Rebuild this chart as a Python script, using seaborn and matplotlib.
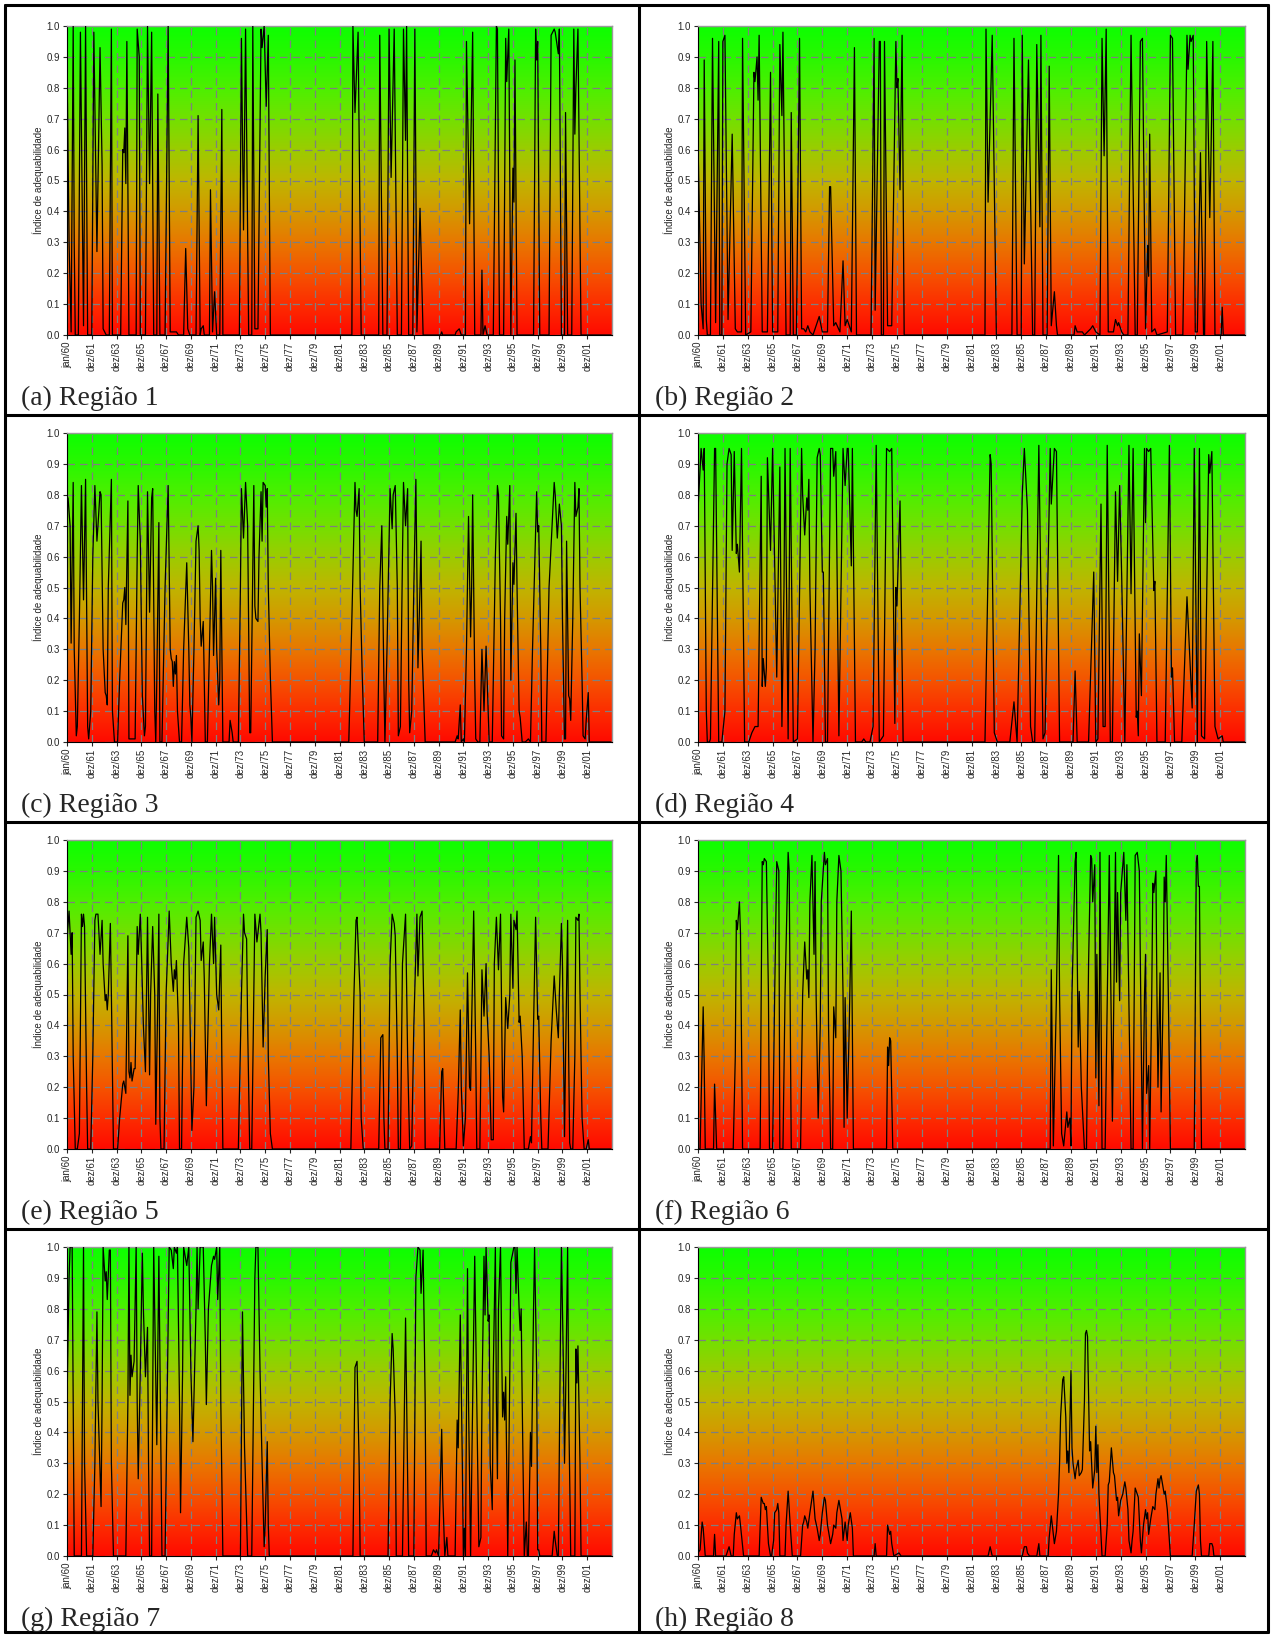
import numpy as np
import pandas as pd
import matplotlib
matplotlib.use("Agg")
import matplotlib.pyplot as plt
import seaborn as sns
from matplotlib.colors import LinearSegmentedColormap
from matplotlib.lines import Line2D

sns.set_style("ticks")
plt.rcParams["font.family"] = ["Liberation Sans", "DejaVu Sans"]

# Monthly index: 0 = jan/60. Values as (month, index) vertices.
regiao1 = [(0, 0.90), (2, 0.30), (4, 0.01), (6, 1.0), (7, 0.30), (8, 0.0), (11, 0.0), (13, 0.98),
           (16, 0.03), (18, 1.0), (20, 0.0), (24, 0.0), (26, 0.98), (29, 0.27), (32, 0.93), (34, 0.55),
           (35, 0.02), (38, 0.0), (41, 0.0), (43, 0.99), (44, 0.0), (52, 0.0), (54, 0.60), (55, 0.59),
           (56, 0.67), (57, 0.49), (58, 0.95), (60, 0.0), (67, 0.0), (68, 0.99), (70, 0.90), (71, 0.0),
           (76, 0.0), (78, 1.0), (80, 0.49), (82, 0.98), (84, 0.0), (87, 0.0), (88, 0.78), (90, 0.0),
           (95, 0.0), (98, 1.0), (100, 0.01), (106, 0.01), (108, 0.0), (113, 0.0), (115, 0.28), (117, 0.02),
           (119, 0.0), (125, 0.0), (127, 0.71), (129, 0.0), (130, 0.02), (132, 0.03), (133, 0.0), (138, 0.0),
           (139, 0.47), (141, 0.01), (143, 0.14), (145, 0.0), (148, 0.0), (150, 0.73), (151, 0.0), (167, 0.0),
           (169, 0.96), (171, 0.34), (173, 0.99), (176, 0.0), (179, 0.0), (180, 1.0), (182, 0.02), (185, 0.02),
           (188, 0.99), (189, 0.93), (191, 1.0), (193, 0.74), (195, 0.97), (197, 0.0), (276, 0.0), (277, 1.0),
           (279, 0.72), (282, 0.98), (285, 0.0), (302, 0.0), (303, 0.97), (306, 0.0), (310, 0.0), (312, 0.99),
           (314, 0.51), (317, 0.99), (320, 0.0), (324, 0.0), (326, 0.99), (328, 0.63), (329, 1.0), (331, 0.0),
           (335, 0.0), (337, 0.99), (339, 0.01), (342, 0.41), (345, 0.0), (362, 0.0), (363, 0.01), (364, 0.0),
           (376, 0.0), (377, 0.01), (380, 0.02), (382, 0.0), (386, 0.0), (387, 0.95), (390, 0.36), (393, 0.98),
           (395, 0.0), (401, 0.0), (402, 0.21), (403, 0.0), (405, 0.03), (407, 0.0), (413, 0.0), (416, 1.0),
           (417, 0.99), (419, 0.0), (423, 0.0), (425, 0.96), (426, 0.82), (428, 0.99), (430, 0.0), (432, 0.54),
           (433, 0.43), (434, 0.89), (436, 0.0), (452, 0.0), (454, 0.99), (455, 0.89), (456, 0.95), (458, 0.0),
           (467, 0.0), (469, 0.97), (472, 0.99), (473, 0.98), (476, 0.91), (477, 0.99), (479, 0.0), (482, 0.0),
           (483, 0.72), (485, 0.0), (489, 0.0), (491, 0.99), (492, 0.65), (493, 0.80), (495, 0.99), (498, 0.0),
           (527, 0.0)]

regiao2 = [(0, 0.63), (3, 0.10), (5, 0.02), (6, 0.89), (8, 0.05), (9, 0.0), (12, 0.0), (14, 0.96),
           (17, 0.04), (20, 0.95), (21, 0.0), (23, 0.0), (24, 0.95), (26, 0.97), (29, 0.05), (33, 0.65),
           (36, 0.02), (38, 0.01), (42, 0.01), (43, 0.96), (46, 0.0), (51, 0.01), (54, 0.85), (55, 0.82),
           (57, 0.90), (58, 0.76), (59, 0.97), (62, 0.01), (67, 0.01), (70, 0.85), (72, 0.01), (77, 0.01),
           (79, 0.94), (81, 0.71), (82, 0.98), (85, 0.0), (89, 0.0), (90, 0.72), (92, 0.0), (95, 0.0),
           (98, 0.96), (100, 0.02), (102, 0.02), (104, 0.01), (106, 0.03), (108, 0.01), (111, 0.0), (117, 0.06),
           (120, 0.01), (125, 0.01), (127, 0.48), (128, 0.48), (131, 0.03), (133, 0.04), (137, 0.01), (140, 0.24),
           (142, 0.03), (144, 0.05), (148, 0.01), (151, 0.93), (153, 0.0), (167, 0.0), (170, 0.96), (171, 0.08),
           (175, 0.95), (176, 0.95), (177, 0.0), (179, 0.0), (180, 0.95), (183, 0.03), (187, 0.03), (191, 0.95),
           (192, 0.80), (193, 0.83), (195, 0.47), (197, 0.97), (199, 0.0), (277, 0.0), (278, 0.99), (280, 0.43),
           (284, 0.97), (288, 0.0), (303, 0.0), (305, 0.96), (308, 0.0), (312, 0.0), (313, 0.97), (315, 0.23),
           (319, 0.89), (323, 0.0), (325, 0.0), (327, 0.94), (330, 0.35), (331, 0.97), (333, 0.0), (337, 0.0),
           (339, 0.87), (341, 0.03), (344, 0.14), (346, 0.03), (347, 0.0), (363, 0.0), (364, 0.03), (366, 0.01),
           (371, 0.01), (373, 0.0), (379, 0.02), (381, 0.03), (384, 0.01), (388, 0.0), (390, 0.96), (392, 0.58),
           (394, 0.99), (396, 0.01), (401, 0.01), (403, 0.05), (405, 0.03), (406, 0.04), (409, 0.01), (411, 0.0),
           (415, 0.0), (418, 0.97), (422, 0.0), (424, 0.0), (427, 0.95), (429, 0.96), (432, 0.02), (434, 0.29),
           (435, 0.19), (436, 0.65), (438, 0.01), (441, 0.02), (443, 0.0), (453, 0.01), (456, 0.97), (458, 0.96),
           (461, 0.0), (468, 0.0), (472, 0.97), (473, 0.86), (475, 0.97), (476, 0.95), (478, 0.97), (480, 0.01),
           (482, 0.01), (485, 0.59), (488, 0.0), (489, 0.0), (491, 0.95), (494, 0.38), (495, 0.55), (497, 0.95),
           (499, 0.0), (505, 0.0), (506, 0.09), (507, 0.0), (528, 0.0)]

regiao3 = [(0, 0.79), (1, 0.79), (3, 0.70), (4, 0.32), (6, 0.84), (7, 0.30), (9, 0.02), (10, 0.05),
           (12, 0.40), (14, 0.83), (16, 0.46), (18, 0.85), (20, 0.05), (21, 0.01), (23, 0.10), (25, 0.60),
           (27, 0.83), (29, 0.65), (30, 0.70), (32, 0.81), (33, 0.80), (35, 0.30), (37, 0.16), (38, 0.15),
           (39, 0.12), (40, 0.50), (43, 0.85), (44, 0.10), (46, 0.0), (49, 0.0), (51, 0.20), (54, 0.45),
           (55, 0.46), (56, 0.50), (57, 0.38), (59, 0.78), (60, 0.01), (66, 0.01), (68, 0.60), (69, 0.83),
           (71, 0.65), (73, 0.15), (75, 0.02), (76, 0.05), (78, 0.81), (80, 0.42), (82, 0.79), (83, 0.82),
           (85, 0.10), (86, 0.0), (87, 0.20), (89, 0.71), (90, 0.0), (92, 0.0), (95, 0.50), (98, 0.83),
           (100, 0.30), (101, 0.27), (102, 0.26), (103, 0.18), (104, 0.26), (105, 0.22), (106, 0.28), (107, 0.10),
           (109, 0.0), (111, 0.0), (113, 0.30), (116, 0.58), (118, 0.30), (119, 0.12), (120, 0.08), (121, 0.0),
           (123, 0.30), (125, 0.65), (127, 0.70), (128, 0.62), (129, 0.40), (130, 0.31), (132, 0.39), (134, 0.0),
           (136, 0.0), (138, 0.30), (140, 0.62), (141, 0.50), (142, 0.28), (144, 0.53), (145, 0.30), (147, 0.12),
           (148, 0.20), (149, 0.62), (151, 0.0), (157, 0.0), (158, 0.07), (160, 0.03), (161, 0.0), (166, 0.0),
           (168, 0.50), (169, 0.82), (171, 0.66), (173, 0.84), (175, 0.70), (177, 0.03), (178, 0.03), (179, 0.30),
           (181, 0.83), (182, 0.44), (183, 0.40), (185, 0.39), (186, 0.60), (188, 0.81), (189, 0.65), (190, 0.84),
           (192, 0.83), (193, 0.76), (194, 0.82), (195, 0.50), (197, 0.21), (199, 0.0), (273, 0.0), (276, 0.40),
           (279, 0.84), (280, 0.75), (281, 0.73), (283, 0.82), (284, 0.50), (286, 0.22), (288, 0.0), (301, 0.0),
           (303, 0.50), (305, 0.70), (307, 0.20), (308, 0.0), (310, 0.30), (313, 0.82), (315, 0.69), (316, 0.80),
           (318, 0.83), (320, 0.50), (321, 0.02), (323, 0.05), (325, 0.60), (326, 0.84), (328, 0.70), (330, 0.82),
           (331, 0.20), (332, 0.03), (334, 0.10), (336, 0.50), (338, 0.85), (340, 0.24), (342, 0.50), (343, 0.65),
           (344, 0.30), (347, 0.0), (376, 0.0), (378, 0.02), (379, 0.01), (381, 0.12), (382, 0.0), (384, 0.01),
           (385, 0.0), (387, 0.30), (389, 0.73), (391, 0.34), (392, 0.50), (393, 0.80), (395, 0.20), (396, 0.01),
           (398, 0.0), (400, 0.0), (402, 0.30), (404, 0.10), (406, 0.31), (408, 0.10), (409, 0.0), (412, 0.0),
           (415, 0.60), (417, 0.83), (418, 0.80), (420, 0.40), (421, 0.02), (423, 0.01), (424, 0.40), (426, 0.73),
           (427, 0.64), (429, 0.83), (430, 0.20), (432, 0.58), (433, 0.51), (435, 0.74), (436, 0.50), (438, 0.10),
           (439, 0.08), (441, 0.0), (444, 0.0), (447, 0.01), (449, 0.0), (451, 0.30), (455, 0.81), (456, 0.68),
           (457, 0.70), (459, 0.30), (460, 0.0), (464, 0.0), (467, 0.50), (472, 0.84), (473, 0.80), (475, 0.66),
           (477, 0.77), (479, 0.70), (480, 0.40), (482, 0.01), (483, 0.01), (484, 0.65), (486, 0.15), (487, 0.14),
           (488, 0.07), (490, 0.40), (492, 0.84), (493, 0.73), (495, 0.76), (496, 0.82), (497, 0.50), (499, 0.20),
           (500, 0.02), (502, 0.01), (503, 0.07), (505, 0.16), (506, 0.0), (527, 0.0)]

regiao4 = [(0, 0.75), (3, 0.95), (5, 0.88), (6, 0.95), (8, 0.10), (9, 0.0), (11, 0.0), (12, 0.01),
           (16, 0.95), (17, 0.95), (20, 0.0), (23, 0.0), (26, 0.10), (28, 0.90), (30, 0.95), (32, 0.93),
           (33, 0.62), (35, 0.94), (37, 0.61), (38, 0.64), (40, 0.55), (42, 0.95), (45, 0.0), (49, 0.0),
           (52, 0.03), (55, 0.05), (58, 0.05), (61, 0.86), (62, 0.18), (63, 0.27), (65, 0.18), (66, 0.24),
           (67, 0.92), (70, 0.62), (72, 0.95), (76, 0.21), (79, 0.89), (81, 0.05), (83, 0.50), (84, 0.95),
           (87, 0.01), (89, 0.95), (92, 0.0), (96, 0.01), (100, 0.95), (101, 0.80), (103, 0.67), (105, 0.79),
           (106, 0.75), (107, 0.85), (108, 0.50), (111, 0.0), (113, 0.30), (115, 0.92), (117, 0.95), (118, 0.93),
           (120, 0.55), (121, 0.55), (123, 0.0), (125, 0.0), (128, 0.95), (130, 0.95), (131, 0.86), (133, 0.94),
           (136, 0.02), (140, 0.95), (142, 0.83), (144, 0.95), (145, 0.95), (148, 0.57), (149, 0.95), (152, 0.0),
           (158, 0.0), (160, 0.01), (162, 0.0), (166, 0.0), (169, 0.05), (172, 0.96), (175, 0.0), (179, 0.02),
           (182, 0.95), (185, 0.94), (187, 0.95), (190, 0.06), (191, 0.50), (192, 0.44), (195, 0.78), (198, 0.0),
           (277, 0.0), (282, 0.93), (283, 0.90), (286, 0.03), (289, 0.0), (301, 0.0), (305, 0.13), (308, 0.0),
           (313, 0.80), (315, 0.95), (318, 0.75), (321, 0.05), (323, 0.0), (325, 0.0), (329, 0.96), (333, 0.01),
           (335, 0.03), (340, 0.95), (341, 0.77), (344, 0.95), (346, 0.94), (349, 0.0), (362, 0.0), (364, 0.23),
           (366, 0.0), (377, 0.0), (382, 0.55), (384, 0.0), (386, 0.01), (389, 0.77), (391, 0.05), (393, 0.05),
           (395, 0.96), (398, 0.0), (400, 0.0), (403, 0.81), (405, 0.52), (407, 0.83), (409, 0.53), (412, 0.0),
           (416, 0.96), (418, 0.48), (420, 0.95), (423, 0.08), (424, 0.10), (425, 0.02), (426, 0.35), (428, 0.15),
           (431, 0.95), (432, 0.71), (433, 0.95), (435, 0.94), (437, 0.95), (440, 0.49), (441, 0.52), (443, 0.0),
           (451, 0.0), (455, 0.96), (457, 0.21), (458, 0.24), (460, 0.0), (467, 0.0), (472, 0.47), (477, 0.11),
           (479, 0.95), (482, 0.0), (484, 0.95), (486, 0.02), (489, 0.01), (493, 0.93), (494, 0.87), (496, 0.94),
           (499, 0.05), (502, 0.01), (506, 0.02), (507, 0.0), (528, 0.0)]

regiao5 = [(0, 0.68), (2, 0.77), (3, 0.70), (4, 0.63), (5, 0.70), (6, 0.30), (8, 0.0), (10, 0.0),
           (12, 0.05), (14, 0.76), (15, 0.72), (16, 0.76), (17, 0.72), (19, 0.20), (20, 0.0), (23, 0.0),
           (25, 0.30), (27, 0.74), (28, 0.76), (30, 0.76), (32, 0.63), (34, 0.74), (35, 0.60), (37, 0.48),
           (38, 0.50), (39, 0.45), (40, 0.50), (42, 0.73), (43, 0.50), (45, 0.0), (49, 0.0), (51, 0.10),
           (54, 0.21), (55, 0.22), (57, 0.18), (59, 0.69), (60, 0.25), (61, 0.23), (62, 0.28), (63, 0.22),
           (65, 0.26), (66, 0.26), (68, 0.72), (69, 0.63), (71, 0.76), (72, 0.65), (74, 0.40), (76, 0.25),
           (78, 0.75), (80, 0.24), (81, 0.50), (83, 0.72), (85, 0.50), (86, 0.08), (88, 0.50), (89, 0.76),
           (90, 0.10), (91, 0.0), (94, 0.0), (96, 0.50), (99, 0.77), (101, 0.60), (103, 0.51), (104, 0.58),
           (105, 0.55), (106, 0.61), (108, 0.40), (109, 0.0), (111, 0.0), (113, 0.60), (116, 0.75), (118, 0.65),
           (119, 0.45), (121, 0.06), (123, 0.20), (125, 0.75), (127, 0.77), (129, 0.74), (130, 0.61), (132, 0.67),
           (133, 0.55), (135, 0.14), (136, 0.30), (138, 0.60), (140, 0.76), (142, 0.60), (143, 0.75), (145, 0.50),
           (147, 0.45), (149, 0.66), (150, 0.30), (151, 0.0), (166, 0.0), (169, 0.50), (171, 0.76), (172, 0.70),
           (174, 0.68), (175, 0.40), (177, 0.0), (179, 0.0), (181, 0.50), (182, 0.76), (184, 0.67), (185, 0.70),
           (187, 0.76), (188, 0.70), (190, 0.33), (192, 0.56), (194, 0.71), (195, 0.30), (197, 0.05), (199, 0.0),
           (275, 0.0), (278, 0.50), (280, 0.74), (281, 0.75), (284, 0.50), (285, 0.10), (287, 0.0), (302, 0.0),
           (304, 0.36), (306, 0.37), (307, 0.10), (308, 0.0), (311, 0.0), (313, 0.60), (315, 0.76), (317, 0.73),
           (318, 0.69), (320, 0.30), (321, 0.0), (323, 0.0), (325, 0.60), (328, 0.76), (330, 0.30), (332, 0.0),
           (334, 0.01), (336, 0.40), (339, 0.76), (340, 0.56), (342, 0.75), (344, 0.77), (346, 0.40), (347, 0.0),
           (361, 0.0), (363, 0.25), (364, 0.26), (366, 0.0), (377, 0.0), (379, 0.18), (381, 0.45), (382, 0.20),
           (384, 0.01), (386, 0.10), (388, 0.57), (390, 0.20), (391, 0.19), (392, 0.40), (394, 0.77), (396, 0.30),
           (397, 0.0), (400, 0.0), (402, 0.58), (404, 0.43), (406, 0.60), (407, 0.44), (409, 0.30), (411, 0.03),
           (413, 0.03), (414, 0.60), (416, 0.75), (418, 0.58), (420, 0.76), (422, 0.17), (423, 0.12), (425, 0.49),
           (427, 0.39), (429, 0.50), (430, 0.76), (432, 0.52), (433, 0.74), (435, 0.71), (436, 0.77), (438, 0.41),
           (439, 0.43), (441, 0.30), (443, 0.0), (447, 0.0), (449, 0.04), (450, 0.02), (452, 0.40), (454, 0.75),
           (456, 0.42), (457, 0.43), (459, 0.10), (460, 0.0), (466, 0.0), (469, 0.35), (472, 0.56), (474, 0.45),
           (476, 0.36), (477, 0.50), (479, 0.73), (480, 0.60), (482, 0.04), (483, 0.30), (485, 0.74), (486, 0.30),
           (487, 0.02), (488, 0.0), (490, 0.0), (492, 0.30), (493, 0.75), (495, 0.74), (496, 0.76), (497, 0.50),
           (499, 0.10), (501, 0.0), (503, 0.0), (505, 0.03), (506, 0.0), (527, 0.0)]

regiao6 = [(0, 0.0), (2, 0.0), (5, 0.46), (6, 0.27), (7, 0.0), (15, 0.0), (16, 0.21), (18, 0.0),
           (34, 0.0), (36, 0.30), (37, 0.74), (38, 0.71), (40, 0.80), (41, 0.70), (43, 0.0), (60, 0.0),
           (61, 0.50), (62, 0.93), (63, 0.92), (64, 0.94), (66, 0.93), (68, 0.50), (69, 0.0), (72, 0.0),
           (74, 0.50), (76, 0.93), (78, 0.90), (79, 0.0), (82, 0.0), (84, 0.50), (87, 0.96), (88, 0.90),
           (90, 0.0), (99, 0.0), (101, 0.50), (103, 0.67), (105, 0.55), (106, 0.58), (107, 0.49), (108, 0.80),
           (110, 0.95), (112, 0.63), (113, 0.93), (114, 0.50), (116, 0.10), (118, 0.40), (119, 0.80), (122, 0.96),
           (123, 0.92), (125, 0.94), (126, 0.40), (128, 0.0), (130, 0.0), (131, 0.46), (133, 0.36), (134, 0.80),
           (136, 0.95), (138, 0.90), (140, 0.50), (141, 0.07), (142, 0.49), (144, 0.10), (146, 0.40), (148, 0.77),
           (149, 0.40), (150, 0.0), (182, 0.0), (183, 0.33), (184, 0.27), (185, 0.36), (186, 0.35), (188, 0.0),
           (340, 0.0), (341, 0.58), (343, 0.01), (346, 0.50), (348, 0.95), (349, 0.50), (351, 0.05), (353, 0.01),
           (356, 0.12), (357, 0.07), (359, 0.10), (360, 0.01), (361, 0.50), (364, 0.93), (365, 0.96), (367, 0.33),
           (368, 0.51), (370, 0.20), (373, 0.0), (375, 0.0), (377, 0.60), (379, 0.95), (380, 0.94), (381, 0.80),
           (383, 0.92), (384, 0.23), (385, 0.63), (387, 0.14), (388, 0.96), (390, 0.0), (393, 0.0), (397, 0.95),
           (400, 0.09), (403, 0.96), (404, 0.54), (405, 0.83), (407, 0.48), (408, 0.83), (411, 0.96), (413, 0.74),
           (414, 0.92), (418, 0.0), (420, 0.0), (422, 0.95), (424, 0.96), (426, 0.90), (429, 0.0), (431, 0.50),
           (432, 0.63), (433, 0.18), (435, 0.27), (436, 0.0), (438, 0.50), (439, 0.86), (440, 0.83), (442, 0.90),
           (443, 0.50), (444, 0.20), (446, 0.57), (447, 0.12), (449, 0.50), (450, 0.88), (451, 0.80), (452, 0.95),
           (454, 0.50), (456, 0.0), (479, 0.0), (481, 0.93), (482, 0.95), (483, 0.85), (484, 0.85), (486, 0.0),
           (528, 0.0)]

regiao7 = [(0, 0.50), (2, 0.90), (3, 1.0), (5, 1.0), (7, 0.0), (14, 0.0), (16, 1.0), (17, 0.30),
           (19, 0.0), (25, 0.0), (27, 0.30), (29, 0.79), (30, 0.50), (33, 0.16), (34, 0.50), (35, 1.0),
           (37, 0.89), (38, 0.92), (39, 0.83), (41, 0.99), (42, 0.99), (43, 0.30), (45, 0.0), (57, 0.0),
           (59, 0.50), (60, 1.0), (61, 0.52), (62, 0.65), (63, 0.58), (65, 0.63), (67, 1.0), (68, 0.50),
           (69, 0.25), (71, 0.60), (73, 0.98), (74, 0.80), (76, 0.58), (78, 0.74), (79, 0.30), (80, 0.0),
           (82, 0.0), (84, 1.0), (87, 0.36), (89, 0.97), (91, 0.30), (92, 0.0), (95, 0.0), (99, 1.0),
           (101, 0.99), (103, 0.93), (104, 1.0), (106, 0.98), (107, 1.0), (109, 0.50), (110, 0.14), (112, 0.60),
           (113, 1.0), (116, 0.94), (118, 1.0), (120, 0.60), (122, 0.37), (125, 0.80), (126, 1.0), (127, 0.80),
           (129, 1.0), (132, 1.0), (134, 0.70), (135, 0.49), (137, 0.80), (140, 0.94), (142, 0.97), (143, 0.96),
           (145, 1.0), (146, 0.83), (148, 1.0), (149, 0.50), (151, 0.0), (168, 0.0), (170, 0.79), (172, 0.35),
           (175, 0.0), (179, 0.0), (182, 0.90), (183, 1.0), (185, 1.0), (187, 0.60), (189, 0.30), (191, 0.03),
           (192, 0.10), (194, 0.37), (195, 0.10), (196, 0.0), (277, 0.0), (279, 0.61), (281, 0.63), (283, 0.30),
           (284, 0.0), (311, 0.0), (313, 0.50), (315, 0.72), (316, 0.67), (318, 0.45), (319, 0.0), (325, 0.0),
           (328, 0.77), (331, 0.0), (336, 0.0), (338, 0.90), (340, 1.0), (342, 0.99), (343, 0.85), (345, 0.99),
           (347, 0.50), (348, 0.0), (353, 0.0), (355, 0.02), (357, 0.01), (358, 0.02), (360, 0.0), (363, 0.41),
           (364, 0.20), (366, 0.0), (368, 0.06), (369, 0.0), (376, 0.0), (378, 0.44), (379, 0.35), (381, 0.78),
           (383, 0.30), (384, 0.0), (385, 0.09), (386, 0.0), (388, 0.93), (389, 0.50), (391, 0.0), (393, 0.50),
           (395, 0.97), (397, 0.50), (399, 0.03), (401, 0.06), (402, 0.50), (404, 0.97), (405, 0.78), (406, 1.0),
           (408, 0.76), (409, 0.78), (410, 0.30), (412, 0.15), (413, 0.60), (415, 1.0), (416, 0.50), (417, 0.25),
           (418, 0.80), (420, 1.0), (421, 0.70), (422, 0.45), (423, 0.53), (424, 0.44), (425, 0.58), (426, 0.30),
           (427, 0.0), (429, 0.60), (430, 0.95), (433, 1.0), (434, 1.0), (435, 0.85), (436, 1.0), (438, 0.80),
           (439, 0.73), (440, 0.80), (441, 0.50), (443, 0.0), (445, 0.11), (446, 0.0), (447, 0.0), (449, 0.40),
           (450, 0.29), (452, 0.80), (453, 1.0), (455, 0.60), (456, 0.02), (457, 0.02), (458, 0.0), (470, 0.0),
           (472, 0.08), (473, 0.05), (475, 0.0), (476, 0.0), (478, 0.70), (479, 1.0), (481, 0.60), (482, 0.30),
           (483, 0.50), (485, 1.0), (486, 0.50), (488, 0.0), (492, 0.0), (493, 0.67), (494, 0.56), (495, 0.68),
           (497, 0.30), (498, 0.0), (527, 0.0)]

regiao8 = [(0, 0.01), (2, 0.02), (4, 0.11), (5, 0.09), (7, 0.0), (15, 0.0), (16, 0.07), (17, 0.0),
           (27, 0.0), (30, 0.03), (32, 0.0), (34, 0.0), (35, 0.07), (37, 0.14), (38, 0.12), (40, 0.13),
           (41, 0.10), (44, 0.0), (59, 0.0), (61, 0.19), (63, 0.17), (64, 0.17), (65, 0.15), (66, 0.16),
           (68, 0.04), (70, 0.0), (71, 0.0), (73, 0.05), (74, 0.14), (76, 0.15), (77, 0.17), (78, 0.14),
           (79, 0.0), (84, 0.0), (85, 0.10), (87, 0.21), (89, 0.10), (91, 0.0), (99, 0.0), (101, 0.10),
           (102, 0.11), (103, 0.13), (105, 0.11), (106, 0.09), (108, 0.14), (111, 0.21), (113, 0.12), (115, 0.09),
           (117, 0.05), (118, 0.07), (120, 0.14), (122, 0.19), (123, 0.18), (125, 0.10), (128, 0.04), (130, 0.07),
           (131, 0.10), (133, 0.09), (134, 0.14), (136, 0.18), (137, 0.16), (139, 0.12), (140, 0.05), (142, 0.11),
           (144, 0.05), (145, 0.10), (147, 0.14), (149, 0.09), (150, 0.0), (170, 0.0), (171, 0.04), (172, 0.0),
           (182, 0.0), (183, 0.10), (185, 0.07), (186, 0.08), (187, 0.04), (189, 0.0), (194, 0.01), (196, 0.0),
           (280, 0.0), (282, 0.03), (284, 0.0), (313, 0.0), (315, 0.03), (317, 0.03), (318, 0.01), (320, 0.0),
           (327, 0.0), (329, 0.04), (330, 0.0), (338, 0.0), (339, 0.06), (341, 0.13), (344, 0.04), (346, 0.08),
           (348, 0.20), (349, 0.30), (350, 0.45), (352, 0.57), (353, 0.58), (355, 0.45), (356, 0.30), (357, 0.34),
           (358, 0.27), (360, 0.60), (361, 0.35), (362, 0.30), (364, 0.25), (365, 0.28), (367, 0.31), (368, 0.26),
           (370, 0.27), (371, 0.28), (373, 0.50), (374, 0.72), (375, 0.73), (376, 0.71), (378, 0.34), (379, 0.37),
           (381, 0.22), (383, 0.28), (384, 0.42), (385, 0.27), (386, 0.36), (387, 0.20), (390, 0.0), (393, 0.0),
           (395, 0.10), (396, 0.23), (397, 0.24), (399, 0.35), (401, 0.27), (402, 0.26), (404, 0.18), (405, 0.19),
           (406, 0.13), (408, 0.18), (410, 0.20), (412, 0.24), (413, 0.22), (415, 0.15), (416, 0.05), (418, 0.01),
           (419, 0.05), (420, 0.08), (422, 0.22), (424, 0.20), (425, 0.19), (427, 0.05), (428, 0.01), (430, 0.10),
           (432, 0.15), (433, 0.12), (434, 0.14), (435, 0.07), (437, 0.12), (439, 0.16), (441, 0.15), (442, 0.20),
           (444, 0.25), (445, 0.22), (446, 0.25), (447, 0.26), (450, 0.20), (451, 0.21), (453, 0.15), (455, 0.05),
           (456, 0.0), (477, 0.0), (479, 0.10), (481, 0.21), (483, 0.23), (484, 0.20), (485, 0.05), (486, 0.0),
           (493, 0.0), (494, 0.04), (496, 0.04), (497, 0.03), (498, 0.0), (528, 0.0)]

regioes = [regiao1, regiao2, regiao3, regiao4, regiao5, regiao6, regiao7, regiao8]
captions = ["(a) Região 1", "(b) Região 2", "(c) Região 3", "(d) Região 4",
            "(e) Região 5", "(f) Região 6", "(g) Região 7", "(h) Região 8"]
tick_labels = ["jan/60", "dez/61", "dez/63", "dez/65", "dez/67", "dez/69", "dez/71", "dez/73",
               "dez/75", "dez/77", "dez/79", "dez/81", "dez/83", "dez/85", "dez/87", "dez/89",
               "dez/91", "dez/93", "dez/95", "dez/97", "dez/99", "dez/01"]
y_ticks = [0.0, 0.1, 0.2, 0.3, 0.4, 0.5, 0.6, 0.7, 0.8, 0.9, 1.0]
n_months = 528

# red -> green background like the Excel fill
bg_cmap = LinearSegmentedColormap.from_list("adeq", [
    (0.00, (1.00, 0.04, 0.00)), (0.10, (0.99, 0.18, 0.00)), (0.20, (0.96, 0.33, 0.00)),
    (0.30, (0.91, 0.47, 0.00)), (0.40, (0.83, 0.60, 0.00)), (0.50, (0.75, 0.71, 0.00)),
    (0.60, (0.61, 0.80, 0.00)), (0.70, (0.45, 0.88, 0.00)), (0.80, (0.30, 0.94, 0.00)),
    (0.90, (0.16, 0.97, 0.00)), (1.00, (0.05, 1.00, 0.00))])

W, H = 1273, 1636
fig = plt.figure(figsize=(W / 100, H / 100), dpi=100)
fig.patch.set_facecolor("white")

col_x = [(67, 612), (698, 1245)]
row_y = [(26, 335), (433, 742), (840, 1149), (1247, 1556)]

for i, pts in enumerate(regioes):
    r, c = divmod(i, 2)
    x0, x1 = col_x[c]
    y0, y1 = row_y[r]
    ax = fig.add_axes([x0 / W, 1 - y1 / H, (x1 - x0) / W, (y1 - y0) / H])

    grad = np.linspace(0, 1, 256).reshape(-1, 1)
    ax.imshow(grad, cmap=bg_cmap, origin="lower", aspect="auto",
              extent=[0, n_months, 0, 1], zorder=0, interpolation="bilinear")

    df = pd.DataFrame(pts, columns=["mes", "indice"])
    sns.lineplot(data=df, x="mes", y="indice", ax=ax, color="black", lw=0.9,
                 estimator=None, sort=False, zorder=3)

    ax.set_xlim(0, n_months)
    ax.set_ylim(0, 1)
    ax.set_xticks(np.arange(len(tick_labels)) * 24)
    ax.set_xticklabels(tick_labels, rotation=90, fontsize=7)
    ax.set_yticks(y_ticks)
    ax.set_yticklabels([f"{v:.1f}" for v in y_ticks], fontsize=7)
    ax.tick_params(direction="out", length=3, width=0.8, pad=2)
    ax.grid(True, color="#7f7f7f", linestyle=(0, (6, 4)), linewidth=0.9, zorder=1)
    ax.set_xlabel("")
    ax.set_ylabel("Índice de adequabilidade", fontsize=7, labelpad=2)
    for side in ["left", "bottom"]:
        ax.spines[side].set_color("black")
        ax.spines[side].set_linewidth(0.8)
    for side in ["top", "right"]:
        ax.spines[side].set_color("#9a9a9a")
        ax.spines[side].set_linewidth(1.0)

    fig.text((21 if c == 0 else 655) / W, 1 - (405 + 407 * r) / H, captions[i],
             fontfamily=["Liberation Serif", "DejaVu Serif"], fontsize=20,
             va="baseline", ha="left")

# table borders
def table_line(xa, ya, xb, yb):
    fig.add_artist(Line2D([xa / W, xb / W], [1 - ya / H, 1 - yb / H],
                          transform=fig.transFigure, color="black", lw=2.2))

table_line(5, 5, 1268, 5)
table_line(5, 1632, 1268, 1632)
table_line(5, 5, 5, 1632)
table_line(1268, 5, 1268, 1632)
table_line(639, 5, 639, 1632)
for yy in [415, 822, 1229]:
    table_line(5, yy, 1268, yy)

plt.savefig("out.png", dpi=100)
